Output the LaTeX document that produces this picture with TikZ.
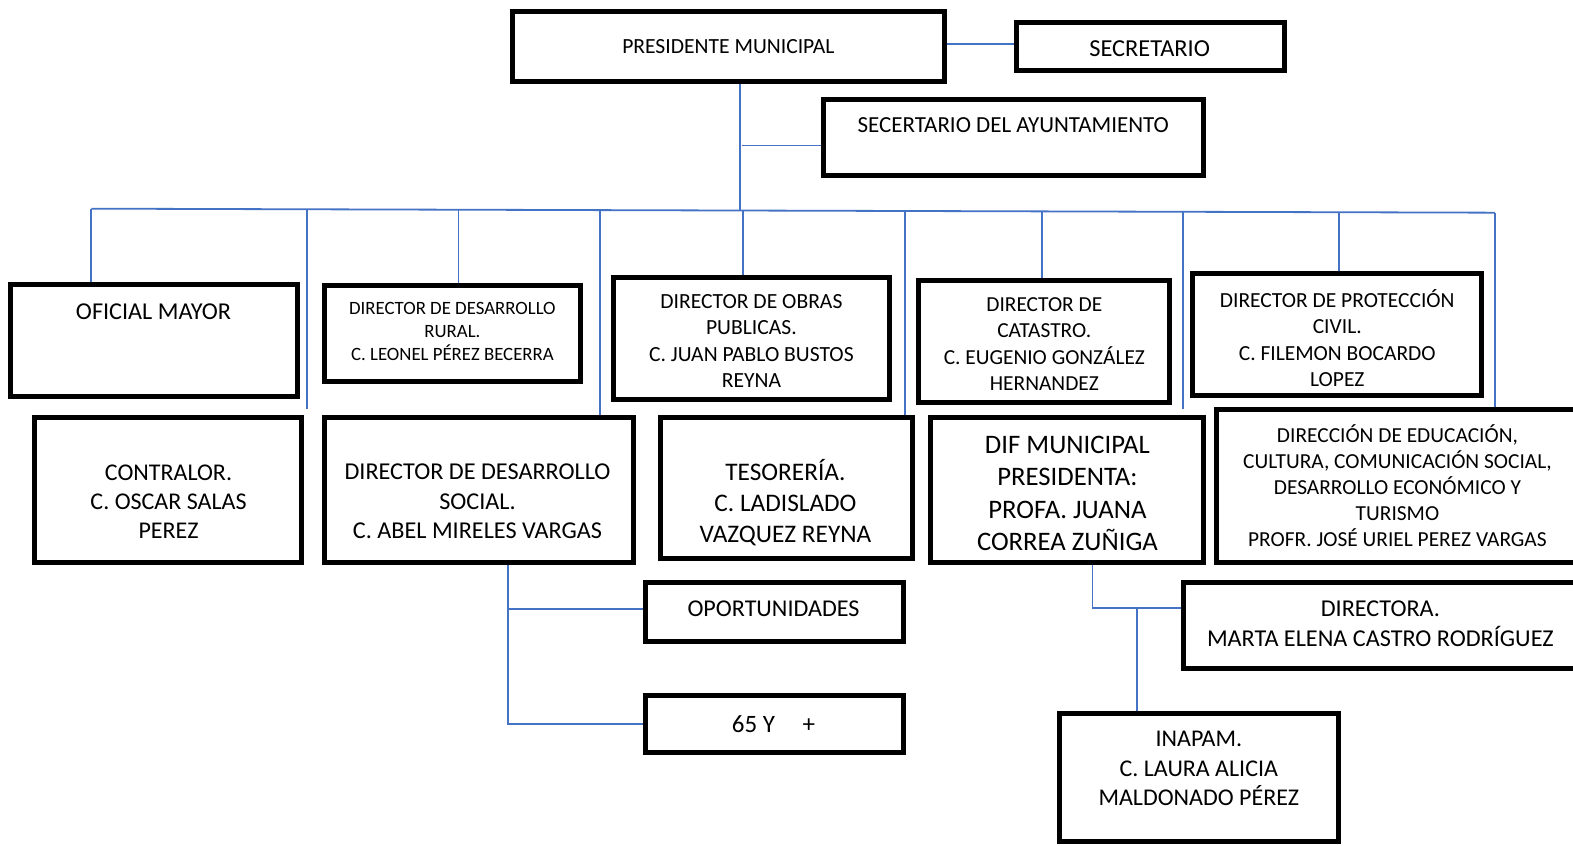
\documentclass[tikz,border=0pt]{standalone}
\usepackage{fontspec}
\setmainfont{Carlito}
\definecolor{linkblue}{HTML}{4472C4}
\newcommand{\fsz}[1]{\fontsize{#1}{\fpeval{1.22*#1}}\selectfont}
\tikzset{
  orgbox/.style={draw=black, line width=5pt, rectangle, inner sep=0pt, fill=white},
  label text/.style={align=center, inner sep=0pt, text=black},
  link/.style={draw=linkblue, line width=1.8pt},
}
% box from stroke-centre corners (x1,y1) (x2,y2)
\newcommand{\orgrect}[5]{%
  \node[orgbox, minimum width={(#4-#2)*1.0032pt}, minimum height={(#5-#3)*1.0032pt}]
    (#1) at ({(#2+#4)/2},{(#3+#5)/2}) {};}
\begin{document}
\begin{tikzpicture}[x=1.0032pt, y=-1.0032pt]
\useasboundingbox[fill=white] (0,0) rectangle (1568,843);

% ---------- boxes ----------
\orgrect{pm}{511}{11}{941}{81}
\orgrect{sec}{1013}{22}{1280}{70}
\orgrect{sa}{821}{99}{1200}{175}

\orgrect{om}{10}{284}{297}{395}
\orgrect{dr}{323}{285}{579}{380}
\orgrect{op}{612}{277}{887}{398}
\orgrect{ca}{916}{280}{1166}{401}
\orgrect{pc}{1189}{273}{1477}{394}

\orgrect{ct}{34}{416}{301}{561}
\orgrect{ds}{323}{416}{631}{561}
\orgrect{te}{658}{416}{910}{557}
\orgrect{dif}{928}{416}{1200}{561}
\orgrect{ed}{1213}{408}{1580}{561}

\orgrect{opo}{643}{581}{901}{639}
\orgrect{sf}{643}{693}{901}{750}
\orgrect{dir}{1180}{581}{1580}{666}
\orgrect{ina}{1056}{711}{1334}{839}

% ---------- texts ----------
\node[label text, font=\fsz{21.6}] (pm-t) at (726,46) {PRESIDENTE MUNICIPAL};
\node[label text, font=\fsz{24.4}] (sec-t) at (1146,49) {SECRETARIO};
\node[label text, font=\fsz{23}] (sa-t) at (1010,125) {SECERTARIO DEL AYUNTAMIENTO};

\node[label text, font=\fsz{24.2}] (om-t) at (153,311) {OFICIAL MAYOR};
\node[label text, font=\fsz{18.8}] (dr-t) at (451,330) {DIRECTOR DE DESARROLLO\\RURAL.\\C. LEONEL PÉREZ BECERRA};
\node[label text, font=\fsz{21.6}] (op-t) at (749,340) {DIRECTOR DE OBRAS\\PUBLICAS.\\C. JUAN PABLO BUSTOS\\REYNA};
\node[label text, font=\fsz{21.4}] (ca-t) at (1041,343) {DIRECTOR DE\\CATASTRO.\\C. EUGENIO GONZÁLEZ\\HERNANDEZ};
\node[label text, font=\fsz{21.5}] (pc-t) at (1333,337) {DIRECTOR DE PROTECCIÓN\\CIVIL.\\C. FILEMON BOCARDO\\LOPEZ};

\node[label text, font=\fsz{24}] (ct-t) at (168,500) {CONTRALOR.\\C. OSCAR SALAS\\PEREZ};
\node[label text, font=\fsz{24.2}] (ds-t) at (476,500) {DIRECTOR DE DESARROLLO\\SOCIAL.\\C. ABEL MIRELES VARGAS};
\node[label text, font=\fsz{25.3}] (te-t) at (783,501) {TESORERÍA.\\C. LADISLADO\\VAZQUEZ REYNA};
\node[label text, font=\fsz{26.7}] (dif-t) at (1064,492) {DIF MUNICIPAL\\PRESIDENTA:\\PROFA. JUANA\\CORREA ZUÑIGA};
\node[label text, font=\fsz{21.4}] (ed-t) at (1393,484) {DIRECCIÓN DE EDUCACIÓN,\\CULTURA, COMUNICACIÓN SOCIAL,\\DESARROLLO ECONÓMICO Y\\TURISMO\\PROFR. JOSÉ URIEL PEREZ VARGAS};

\node[label text, font=\fsz{24.1}] (opo-t) at (771,607) {OPORTUNIDADES};
\node[label text, font=\fsz{25}] (sf-t) at (771,722) {65 Y\hspace{1.1em}+};
\node[label text, font=\fsz{24.2}] (dir-t) at (1376,622) {DIRECTORA.\\MARTA ELENA CASTRO RODRÍGUEZ};
\node[label text, font=\fsz{24}] (ina-t) at (1195,766) {INAPAM.\\C. LAURA ALICIA\\MALDONADO PÉREZ};

% ---------- connectors ----------
\coordinate (trunk) at (738,210);
\coordinate (tsa) at (740,145);
\coordinate (busL) at (91,208);
\coordinate (busR) at (1490,212);
\coordinate (d1) at (91,208);
\coordinate (d2) at (306,208.6);
\coordinate (d3) at (457,209);
\coordinate (d4) at (598,209.4);
\coordinate (d5) at (741,209.9);
\coordinate (d6) at (902,210.3);
\coordinate (d7) at (1039,210.7);
\coordinate (d8) at (1179,211.1);
\coordinate (d9) at (1335,211.6);
\coordinate (d10) at (1490,212);

\draw[link] (pm.east |- 0,44) -- (sec.west |- 0,44);
\draw[link] (pm.south -| trunk) -- (trunk);
\draw[link] (tsa) -- (tsa -| sa.west);
\draw[link] (busL) -- (busR);

\draw[link] (d1) -- (om.north -| d1);
\draw[link] (d2) -- (0,408 -| d2);
\draw[link] (d3) -- (dr.north -| d3);
\draw[link] (d4) -- (ds.north -| d4);
\draw[link] (d5) -- (op.north -| d5);
\draw[link] (d6) -- (te.north -| d6);
\draw[link] (d7) -- (ca.north -| d7);
\draw[link] (d8) -- (0,408 -| d8);
\draw[link] (d9) -- (pc.north -| d9);
\draw[link] (d10) -- (ed.north -| d10);

\coordinate (dsj) at (506,607);
\draw[link] (ds.south -| dsj) -- (dsj |- sf.west) -- (sf.west);
\draw[link] (dsj) -- (opo.west |- dsj);

\coordinate (difj) at (1089,606);
\coordinate (inaj) at (1133,606);
\draw[link] (dif.south -| difj) -- (difj) -- (dir.west |- difj);
\draw[link] (inaj) -- (ina.north -| inaj);

\end{tikzpicture}
\end{document}
